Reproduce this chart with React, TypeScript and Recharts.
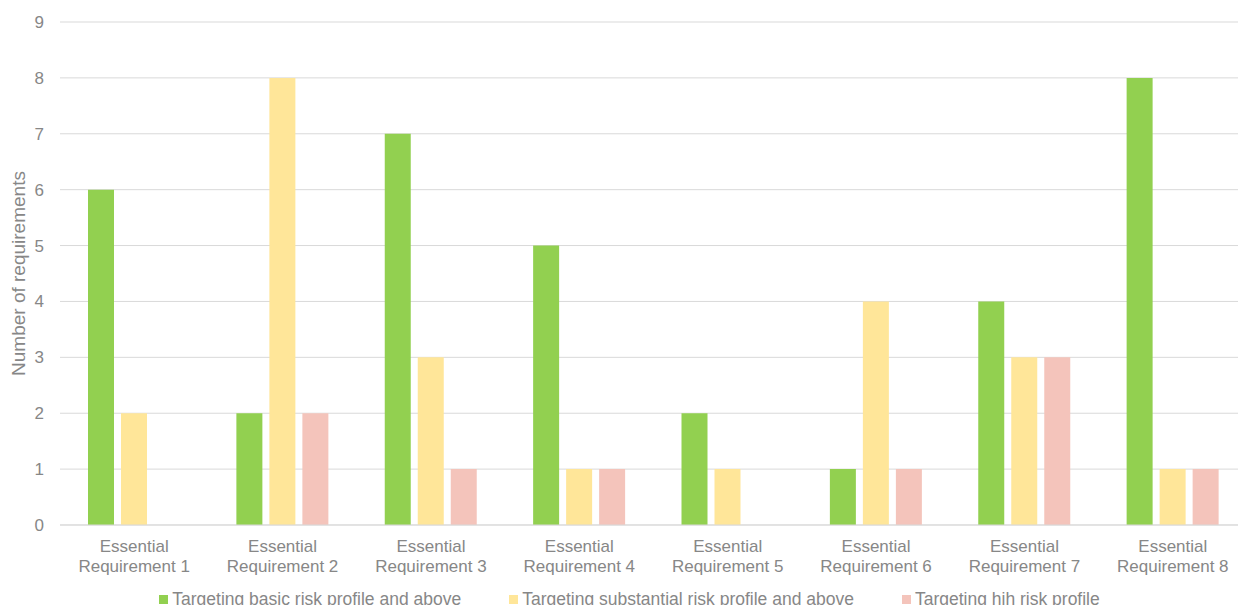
import { BarChart, Bar, XAxis, YAxis, CartesianGrid, Legend } from 'recharts';

const categories = [
  'Essential Requirement 1',
  'Essential Requirement 2',
  'Essential Requirement 3',
  'Essential Requirement 4',
  'Essential Requirement 5',
  'Essential Requirement 6',
  'Essential Requirement 7',
  'Essential Requirement 8',
];
const basicRisk = [6, 2, 7, 5, 2, 1, 4, 8];
const substantialRisk = [2, 8, 3, 1, 1, 4, 3, 1];
const highRisk = [0, 2, 1, 1, 0, 1, 3, 1];
const yTicks = [0, 1, 2, 3, 4, 5, 6, 7, 8, 9];

const SERIES = [
  { key: 'basic', name: 'Targeting basic risk profile and above', color: '#92D050' },
  { key: 'substantial', name: 'Targeting substantial risk profile and above', color: '#FFE699' },
  { key: 'high', name: 'Targeting hih risk profile', color: '#F4C4BB' },
];

const FONT = '"Liberation Sans", Arial, sans-serif';
const TEXT = '#878787';
const GRID = '#d9d9d9';

const chartData = categories.map((name, i) => ({
  name,
  basic: basicRisk[i],
  substantial: substantialRisk[i],
  high: highRisk[i],
}));

// split "Essential Requirement N" over two lines
function CategoryTick({ x, y, payload }: any) {
  const words = String(payload.value).split(' ');
  const first = words[0];
  const rest = words.slice(1).join(' ');
  return (
    <text x={x} y={y} textAnchor="middle" fill={TEXT} fontSize={17} fontFamily={FONT}>
      <tspan x={x} dy={19}>{first}</tspan>
      <tspan x={x} dy={20}>{rest}</tspan>
    </text>
  );
}

function LegendRow() {
  return (
    <div
      style={{
        display: 'flex',
        justifyContent: 'center',
        alignItems: 'center',
        height: 22,
        paddingTop: 3,
        paddingLeft: 12,
        fontFamily: FONT,
        fontSize: 17.5,
        color: TEXT,
        gap: 48,
      }}
    >
      {SERIES.map((s) => (
        <div key={s.key} style={{ display: 'flex', alignItems: 'center' }}>
          <span style={{ width: 9, height: 9, background: s.color, marginRight: 4, display: 'inline-block' }} />
          <span>{s.name}</span>
        </div>
      ))}
    </div>
  );
}

export default function App() {
  return (
    <div style={{ position: 'fixed', left: 0, top: 0, width: 1238, height: 605, overflow: 'hidden', background: '#fff' }}>
      <BarChart
        width={1250}
        height={615}
        data={chartData}
        margin={{ top: 22, right: 3, left: 0, bottom: 0 }}
        barSize={26}
        barGap={7}
      >
        <CartesianGrid vertical={false} stroke={GRID} strokeWidth={1} />
        <XAxis
          dataKey="name"
          height={60}
          axisLine={{ stroke: GRID }}
          tickLine={false}
          interval={0}
          tick={<CategoryTick />}
        />
        <YAxis
          width={60}
          domain={[0, 9]}
          ticks={yTicks}
          axisLine={false}
          tickLine={false}
          tickMargin={10}
          tick={{ fill: TEXT, fontSize: 17, fontFamily: FONT }}
          label={{
            value: 'Number of requirements',
            angle: -90,
            position: 'insideLeft',
            offset: 18,
            style: { textAnchor: 'middle', fill: TEXT, fontSize: 19, fontFamily: FONT },
          }}
        />
        <Legend verticalAlign="bottom" height={30} content={() => <LegendRow />} />
        {SERIES.map((s) => (
          <Bar key={s.key} dataKey={s.key} name={s.name} fill={s.color} isAnimationActive={false} />
        ))}
      </BarChart>
    </div>
  );
}
